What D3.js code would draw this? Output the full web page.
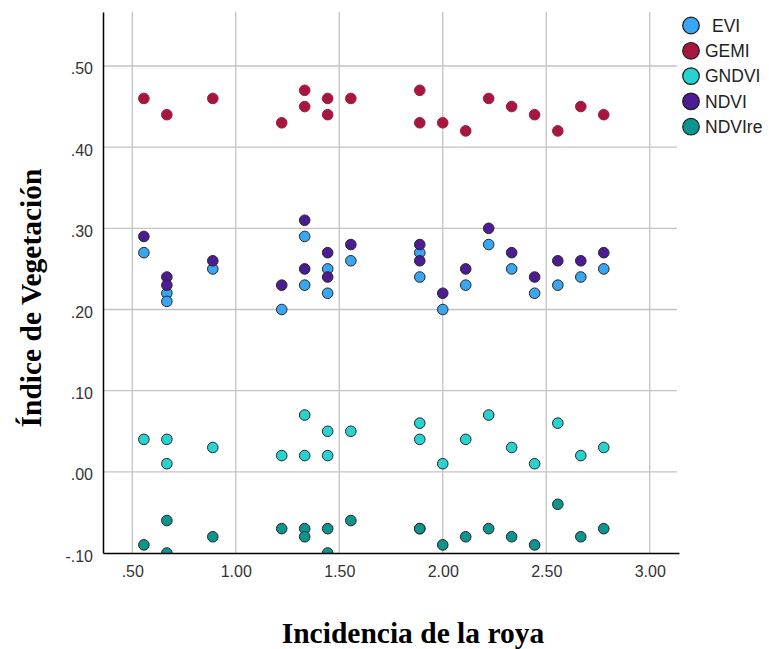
<!DOCTYPE html>
<html><head><meta charset="utf-8">
<script src="https://cdn.jsdelivr.net/npm/d3@7"></script>
<style>body{margin:0;background:#fff;} svg{display:block;}</style>
</head><body>
<svg id="chart" width="769" height="649"></svg>
<script>
// ---- data ----
const seriesNames = ["EVI", "GEMI", "GNDVI", "NDVI", "NDVIre"];
const seriesColors = ["#38a7f3", "#a5173e", "#26d3d1", "#4d1c95", "#0c948f"];

const xEVI  = [0.556,0.667,0.667,0.889,1.222,1.333,1.333,1.444,1.444,1.556,1.889,1.889,2.0,2.111,2.222,2.333,2.444,2.556,2.667,2.778];
const yEVI  = [0.27,0.22,0.21,0.25,0.20,0.29,0.23,0.25,0.22,0.26,0.27,0.24,0.20,0.23,0.28,0.25,0.22,0.23,0.24,0.25];

const xGEMI = [0.556,0.667,0.889,1.222,1.333,1.333,1.444,1.444,1.556,1.889,1.889,2.0,2.111,2.222,2.333,2.444,2.556,2.667,2.778];
const yGEMI = [0.46,0.44,0.46,0.43,0.47,0.45,0.46,0.44,0.46,0.47,0.43,0.43,0.42,0.46,0.45,0.44,0.42,0.45,0.44];

const xGNDVI = [0.556,0.667,0.667,0.889,1.222,1.333,1.333,1.444,1.444,1.556,1.889,1.889,2.0,2.111,2.222,2.333,2.444,2.556,2.667,2.778];
const yGNDVI = [0.04,0.04,0.01,0.03,0.02,0.07,0.02,0.05,0.02,0.05,0.06,0.04,0.01,0.04,0.07,0.03,0.01,0.06,0.02,0.03];

const xNDVI = [0.556,0.667,0.667,0.889,1.222,1.333,1.333,1.444,1.444,1.556,1.889,1.889,2.0,2.111,2.222,2.333,2.444,2.556,2.667,2.778];
const yNDVI = [0.29,0.24,0.23,0.26,0.23,0.31,0.25,0.27,0.24,0.28,0.28,0.26,0.22,0.25,0.30,0.27,0.24,0.26,0.26,0.27];

const xNDVIre = [0.556,0.667,0.667,0.889,1.222,1.333,1.333,1.444,1.444,1.556,1.889,1.889,2.0,2.111,2.222,2.333,2.444,2.556,2.667,2.778];
const yNDVIre = [-0.09,-0.06,-0.10,-0.08,-0.07,-0.07,-0.08,-0.07,-0.10,-0.06,-0.07,-0.07,-0.09,-0.08,-0.07,-0.08,-0.09,-0.04,-0.08,-0.07];

const xTicks = [0.5, 1.0, 1.5, 2.0, 2.5, 3.0];
const xTickLabels = [".50", "1.00", "1.50", "2.00", "2.50", "3.00"];
const yTicks = [-0.1, 0.0, 0.1, 0.2, 0.3, 0.4, 0.5];
const yTickLabels = ["-.10", ".00", ".10", ".20", ".30", ".40", ".50"];

const xTitle = "Incidencia de la roya";
const yTitle = "Índice de Vegetación";

const seriesX = [xEVI, xGEMI, xGNDVI, xNDVI, xNDVIre];
const seriesY = [yEVI, yGEMI, yGNDVI, yNDVI, yNDVIre];

// ---- layout ----
const L = 103, R = 679, T = 12, B = 553;
const svg = d3.select("#chart");
const x = d3.scaleLinear().domain([0.3585, 3.1415]).range([L, R]);
const y = d3.scaleLinear().domain([-0.1, 0.5665]).range([B, T]);

// grid
const grid = svg.append("g");
grid.selectAll("line.v").data(xTicks).join("line")
  .attr("x1", d => x(d)).attr("x2", d => x(d)).attr("y1", T).attr("y2", B)
  .attr("stroke", "#c3c3c3").attr("stroke-width", 1.3);
grid.selectAll("line.h").data(yTicks.filter(d => d > -0.1)).join("line")
  .attr("class","h")
  .attr("x1", L).attr("x2", R - 2).attr("y1", d => y(d)).attr("y2", d => y(d))
  .attr("stroke", "#c3c3c3").attr("stroke-width", 1.3);

// clip
svg.append("clipPath").attr("id", "clip").append("rect")
  .attr("x", L).attr("y", T - 10).attr("width", R - L).attr("height", B - T + 10);

const pts = svg.append("g").attr("clip-path", "url(#clip)");
seriesNames.forEach((name, i) => {
  const data = seriesX[i].map((xv, j) => ({x: xv, y: seriesY[i][j]}));
  pts.append("g").selectAll("circle").data(data).join("circle")
    .attr("cx", d => x(d.x)).attr("cy", d => y(d.y)).attr("r", 5.3)
    .attr("fill", seriesColors[i])
    .attr("stroke", name === "GEMI" ? seriesColors[i] : "#262626")
    .attr("stroke-width", 1);
});

// axes
const xAxis = d3.axisBottom(x).tickValues(xTicks).tickSize(0)
  .tickFormat((d, i) => xTickLabels[i]);
const gx = svg.append("g").attr("transform", `translate(0,${B})`).call(xAxis);
gx.select(".domain").attr("stroke", "#000").attr("stroke-width", 1.5);
gx.selectAll("text").attr("font-family", "Liberation Sans, Arial, sans-serif")
  .attr("font-size", 16).attr("fill", "#333").attr("dy", 0).attr("y", 24);

const yAxis = d3.axisLeft(y).tickValues(yTicks).tickSize(0)
  .tickFormat((d, i) => yTickLabels[i]);
const gy = svg.append("g").attr("transform", `translate(${L},0)`).call(yAxis);
gy.select(".domain").attr("stroke", "#000").attr("stroke-width", 1.5);
gy.selectAll("text").attr("font-family", "Liberation Sans, Arial, sans-serif")
  .attr("font-size", 16).attr("fill", "#333").attr("x", -10).attr("dy", "0.5em");

// titles
svg.append("text").attr("x", 413).attr("y", 643).attr("text-anchor", "middle")
  .attr("font-family", "Liberation Serif, Times New Roman, serif").attr("font-weight", "bold")
  .attr("font-size", 29.5).text(xTitle);
svg.append("text").attr("transform", "translate(41,298) rotate(-90)").attr("text-anchor", "middle")
  .attr("font-family", "Liberation Serif, Times New Roman, serif").attr("font-weight", "bold")
  .attr("font-size", 29.5).text(yTitle);

// legend
const lg = svg.append("g");
seriesNames.forEach((name, i) => {
  const cy = 25.5 + i * 25.3;
  lg.append("circle").attr("cx", 691).attr("cy", cy).attr("r", 8.3)
    .attr("fill", seriesColors[i]).attr("stroke", "#1a1a1a").attr("stroke-width", 1.2);
  lg.append("text").attr("x", name === "EVI" ? 712 : 705).attr("y", cy).attr("dy", "0.36em")
    .attr("font-family", "Liberation Sans, Arial, sans-serif").attr("font-size", 17.5)
    .attr("fill", "#222").text(name);
});
</script>
</body></html>
